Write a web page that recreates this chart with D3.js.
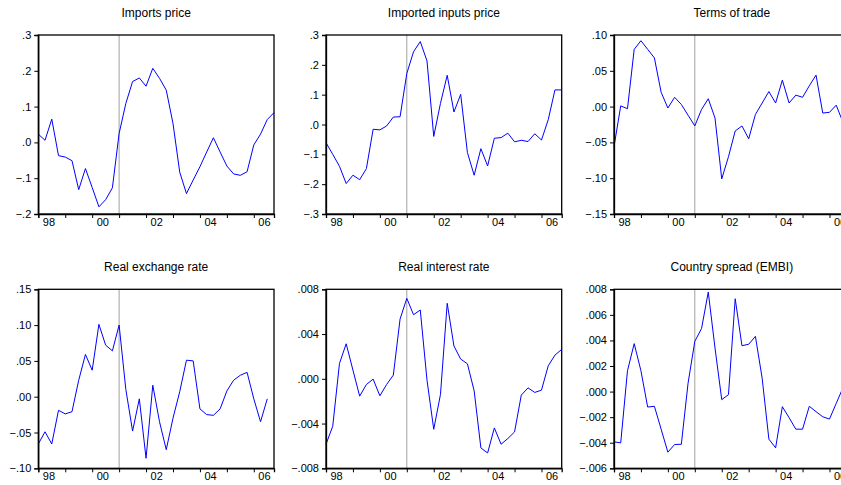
<!DOCTYPE html>
<html>
<head>
<meta charset="utf-8">
<script src="https://cdn.jsdelivr.net/npm/d3@7"></script>
<style>
  body { margin: 0; background: #fff; }
  svg { display: block; font-family: "Liberation Sans", Arial, sans-serif; }
</style>
</head>
<body>
<div id="chart"></div>
<script>
const W = 841, H = 485;

// quarterly observations, 1998Q1 onwards
const startYear = 1998;
const yearTicks = [1998, 1999, 2000, 2001, 2002, 2003, 2004, 2005, 2006];
const breakYear = 2001; // vertical reference line

const titles = ["Imports price", "Imported inputs price", "Terms of trade",
                "Real exchange rate", "Real interest rate", "Country spread (EMBI)"];

const importsPrice = [0.023, 0.006, 0.065, -0.037, -0.041, -0.051, -0.132, -0.073, -0.126, -0.180,
  -0.160, -0.127, 0.025, 0.109, 0.170, 0.180, 0.157, 0.207, 0.179, 0.146,
  0.053, -0.083, -0.143, -0.105, -0.068, -0.027, 0.013, -0.027, -0.066, -0.088,
  -0.092, -0.082, -0.007, 0.023, 0.064, 0.083];

const inputsPrice = [-0.061, -0.100, -0.140, -0.198, -0.170, -0.185, -0.148, -0.016, -0.018, -0.005,
  0.025, 0.026, 0.171, 0.244, 0.278, 0.213, -0.040, 0.071, 0.165, 0.042,
  0.101, -0.094, -0.170, -0.081, -0.139, -0.046, -0.044, -0.029, -0.058, -0.053,
  -0.057, -0.031, -0.052, 0.016, 0.116, 0.116];

const termsOfTrade = [-0.056, 0.001, -0.003, 0.080, 0.092, 0.080, 0.068, 0.020, -0.002, 0.013,
  0.003, -0.012, -0.027, -0.004, 0.011, -0.016, -0.101, -0.070, -0.034, -0.027,
  -0.045, -0.011, 0.005, 0.021, 0.005, 0.037, 0.005, 0.016, 0.013, 0.029,
  0.044, -0.009, -0.008, 0.002, -0.022, -0.030];

const realExchange = [-0.066, -0.049, -0.066, -0.019, -0.024, -0.021, 0.023, 0.059, 0.037, 0.101,
  0.072, 0.064, 0.100, 0.010, -0.048, -0.003, -0.086, 0.016, -0.035, -0.074,
  -0.030, 0.007, 0.051, 0.050, -0.017, -0.025, -0.026, -0.017, 0.008, 0.023,
  0.030, 0.034, -0.003, -0.035, -0.003];

const realInterest = [-0.00585, -0.00424, 0.00137, 0.00313, 0.00078, -0.00155, -0.00051, -0.00003, -0.00152, -0.00051,
  0.00033, 0.00534, 0.00719, 0.00573, 0.00615, -0.00012, -0.00451, -0.00140, 0.00675, 0.00293,
  0.00176, 0.00134, -0.00107, -0.00618, -0.00663, -0.00439, -0.00585, -0.00534, -0.00475, -0.00146,
  -0.00081, -0.00122, -0.00101, 0.00116, 0.00212, 0.00263];

const countrySpread = [-0.00393, -0.00401, 0.00163, 0.00375, 0.00163, -0.00121, -0.00115, -0.00294, -0.00474, -0.00414,
  -0.00412, 0.00066, 0.00393, 0.00493, 0.00778, 0.00341, -0.00063, -0.00024, 0.00726, 0.00359,
  0.00370, 0.00432, 0.00105, -0.00372, -0.00440, -0.00118, -0.00204, -0.00294, -0.00294, -0.00115,
  -0.00157, -0.00197, -0.00215, -0.00092, 0.00030, 0.00100];

const series = [importsPrice, inputsPrice, termsOfTrade, realExchange, realInterest, countrySpread];

const yDomains = [[-0.2, 0.3], [-0.3, 0.3], [-0.15, 0.10], [-0.10, 0.15], [-0.008, 0.008], [-0.006, 0.008]];
const yTicks = [
  [-0.2, -0.1, 0, 0.1, 0.2, 0.3],
  [-0.3, -0.2, -0.1, 0, 0.1, 0.2, 0.3],
  [-0.15, -0.10, -0.05, 0, 0.05, 0.10],
  [-0.10, -0.05, 0, 0.05, 0.10, 0.15],
  [-0.008, -0.004, 0, 0.004, 0.008],
  [-0.006, -0.004, -0.002, 0, 0.002, 0.004, 0.006, 0.008]
];
const yDecimals = [1, 1, 2, 2, 3, 3];

// layout
const colLeft = [38.3, 326, 614];
const rowTop = [35, 289.3];
const pw = 235.7, ph = 179;

const svg = d3.select("#chart").append("svg")
  .attr("width", W).attr("height", H)
  .attr("viewBox", `0 0 ${W} ${H}`);

function fmt(dec) {
  const f = d3.format(`.${dec}f`);
  return v => f(v).replace("0.", ".");
}

series.forEach((vals, k) => {
  const col = k % 3, row = Math.floor(k / 3);
  const g = svg.append("g")
    .attr("transform", `translate(${colLeft[col]},${rowTop[row]})`);

  const x = d3.scaleLinear()
    .domain([startYear, startYear + 35 / 4])
    .range([0, pw]);
  const y = d3.scaleLinear().domain(yDomains[k]).range([ph, 0]);

  // title
  g.append("text")
    .attr("x", pw / 2).attr("y", -18)
    .attr("text-anchor", "middle")
    .style("font-size", "12px")
    .text(titles[k]);

  // break line
  g.append("line")
    .attr("x1", x(breakYear)).attr("x2", x(breakYear))
    .attr("y1", 0).attr("y2", ph)
    .attr("stroke", "#a0a0a0").attr("stroke-width", 1);

  // series line
  const line = d3.line()
    .x((d, i) => x(startYear + i / 4))
    .y(d => y(d));
  g.append("path")
    .datum(vals)
    .attr("d", line)
    .attr("fill", "none")
    .attr("stroke", "#0000ff")
    .attr("stroke-width", 1);

  // frame
  g.append("rect")
    .attr("width", pw).attr("height", ph)
    .attr("fill", "none").attr("stroke", "#000").attr("stroke-width", 1.3);

  // y axis
  const ya = g.append("g")
    .call(d3.axisLeft(y).tickValues(yTicks[k]).tickSize(4).tickPadding(3)
      .tickFormat(fmt(yDecimals[k])));
  ya.select(".domain").attr("stroke-width", 1.3);
  ya.selectAll("text").style("font-size", "11px").attr("fill", "#000");

  // x axis
  const xa = g.append("g")
    .attr("transform", `translate(0,${ph})`)
    .call(d3.axisBottom(x).tickValues(yearTicks).tickSize(4)
      .tickFormat(v => v % 2 === 0 ? String(v).slice(2) : ""));
  xa.select(".domain").attr("stroke-width", 1.3);
  xa.selectAll("text")
    .style("font-size", "11px").attr("fill", "#000")
    .attr("text-anchor", "start")
    .attr("dx", 4).attr("y", 4).attr("dy", "0.71em");
});
</script>
</body>
</html>
